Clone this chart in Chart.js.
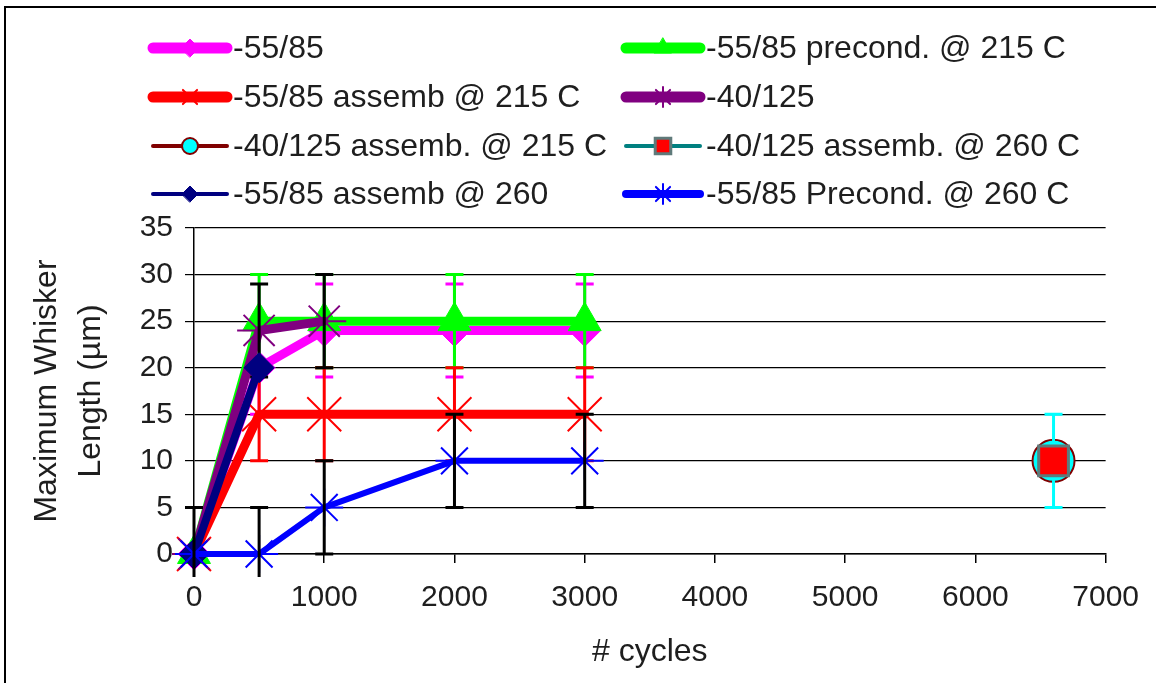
<!DOCTYPE html>
<html><head><meta charset="utf-8">
<script src="https://cdn.jsdelivr.net/npm/chart.js@4.4.0/dist/chart.umd.min.js"></script>
<style>
html,body{margin:0;padding:0;background:#fff;overflow:hidden;}
#wrap{position:relative;width:1156px;height:683px;overflow:hidden;}
#frame{position:absolute;left:4px;top:6px;width:1400px;height:1000px;border:2px solid #000;box-sizing:border-box;}
canvas{position:absolute;left:0;top:0;}
</style></head><body>
<div id="wrap"><div id="frame"></div><canvas id="c" width="1156" height="683"></canvas></div>
<script>
// ---- data ----
const cycles = [0, 500, 1000, 2000, 3000];
const cycles40125 = [0, 500, 1000];
const cyclesAsm260 = [0, 500];
const cyclesLong = [6600];

const len5585 = [0, 20, 24, 24, 24];
const err5585 = [null, 5, 5, 5, 5];
const len5585Pre215 = [0, 25, 25, 25, 25];
const err5585Pre215 = [null, 5, 5, 5, 5];
const len5585Asm215 = [0, 15, 15, 15, 15];
const err5585Asm215 = [null, 5, 5, 5, 5];
const len40125 = [0, 24, 25];
const err40125 = [null, 5, 5];
const len40125Asm215 = [10];
const err40125Asm215 = [5];
const len40125Asm260 = [10];
const len5585Asm260 = [0, 20];
const len5585Pre260 = [0, 0, 5, 10, 10];
const err5585Pre260 = [5, 5, 5, 5, 5];

const seriesNames = ['-55/85', '-55/85 precond. @ 215 C', '-55/85 assemb @ 215 C', '-40/125',
  '-40/125 assemb. @ 215 C', '-40/125 assemb. @ 260 C', '-55/85 assemb @ 260', '-55/85 Precond. @ 260 C'];
const xTickValues = [0, 1000, 2000, 3000, 4000, 5000, 6000, 7000];
const yTickValues = [0, 5, 10, 15, 20, 25, 30, 35];
const xTitle = '# cycles';
const yTitle = ['Maximum Whisker', 'Length (\u00b5m)'];

const FONT = "'Liberation Sans', Arial, sans-serif";
const TEXT = '#1e1e1e';

function pts(xs, ys) { return xs.map((x, i) => ({x: x, y: ys[i]})); }

const datasets = [
  {label: seriesNames[0], data: pts(cycles, len5585), errors: err5585, errorColor: '#FF00FF',
   borderColor: '#FF00FF', borderWidth: 9, pointStyle: 'rectRot', pointRadius: 16,
   pointBackgroundColor: '#FF00FF', pointBorderColor: '#FF00FF', pointBorderWidth: 1,
   legendLine: 11, legendRadius: 9},
  {label: seriesNames[1], data: pts(cycles, len5585Pre215), errors: err5585Pre215, errorColor: '#00FF00',
   borderColor: '#00FF00', borderWidth: 9, pointStyle: 'triangle', pointRadius: 19,
   pointBackgroundColor: '#00FF00', pointBorderColor: '#00FF00', pointBorderWidth: 1,
   legendLine: 11, legendRadius: 10},
  {label: seriesNames[2], data: pts(cycles, len5585Asm215), errors: err5585Asm215, errorColor: '#FF0000',
   borderColor: '#FF0000', borderWidth: 9, pointStyle: 'crossRot', pointRadius: 24,
   pointBackgroundColor: '#FF0000', pointBorderColor: '#FF0000', pointBorderWidth: 2,
   legendLine: 11, legendRadius: 10},
  {label: seriesNames[3], data: pts(cycles40125, len40125), errors: err40125, errorColor: '#000000',
   borderColor: '#800080', borderWidth: 9, pointStyle: 'star', pointRadius: 22,
   pointBackgroundColor: '#800080', pointBorderColor: '#800080', pointBorderWidth: 2,
   legendLine: 11, legendRadius: 10},
  {label: seriesNames[4], data: pts(cyclesLong, len40125Asm215), errors: err40125Asm215, errorColor: '#00FFFF',
   borderColor: '#800000', borderWidth: 3, pointStyle: 'circle', pointRadius: 21,
   pointBackgroundColor: '#00FFFF', pointBorderColor: '#800000', pointBorderWidth: 2,
   legendLine: 4, legendRadius: 8},
  {label: seriesNames[5], data: pts(cyclesLong, len40125Asm260),
   borderColor: '#008080', borderWidth: 3, pointStyle: 'rect', pointRadius: 21,
   pointBackgroundColor: '#FF0000', pointBorderColor: '#5f7a7a', pointBorderWidth: 3,
   legendLine: 4, legendRadius: 11},
  {label: seriesNames[6], data: pts(cyclesAsm260, len5585Asm260),
   borderColor: '#000080', borderWidth: 8, pointStyle: 'rectRot', pointRadius: 15,
   pointBackgroundColor: '#000080', pointBorderColor: '#000080', pointBorderWidth: 1,
   legendLine: 4, legendRadius: 8},
  {label: seriesNames[7], data: pts(cycles, len5585Pre260), errors: err5585Pre260, errorColor: '#000000',
   borderColor: '#0000FF', borderWidth: 6, pointStyle: 'star', pointRadius: 19,
   pointBackgroundColor: '#0000FF', pointBorderColor: '#0000FF', pointBorderWidth: 2,
   legendLine: 8, legendRadius: 10}
];
datasets.forEach((d, i) => {
  d.order = datasets.length - i; // later series drawn on top
  d.clip = false;
  d.fill = false;
  d.tension = 0;
  d.showLine = true;
  d.borderJoinStyle = 'round';
  d.borderCapStyle = 'round';
});

const errorBars = {
  id: 'errorBars',
  afterDatasetDraw(chart, args) {
    const ds = chart.data.datasets[args.index];
    if (!ds.errors) return;
    const ctx = chart.ctx, xs = chart.scales.x, ys = chart.scales.y, ca = chart.chartArea;
    ctx.save();
    // error bars may leave the plot a little, but stop before the tick labels
    ctx.beginPath();
    ctx.rect(ca.left - 40, ca.top - 40, ca.right - ca.left + 80, ca.bottom - ca.top + 40 + 23);
    ctx.clip();
    ctx.strokeStyle = ds.errorColor;
    ctx.lineWidth = 3;
    ds.data.forEach((p, i) => {
      const e = ds.errors[i];
      if (e == null) return;
      const px = xs.getPixelForValue(p.x);
      const t = ys.getPixelForValue(p.y + e);
      const b = ys.getPixelForValue(p.y - e);
      ctx.beginPath();
      ctx.moveTo(px, t); ctx.lineTo(px, b);
      ctx.moveTo(px - 9, t); ctx.lineTo(px + 9, t);
      ctx.moveTo(px - 9, b); ctx.lineTo(px + 9, b);
      ctx.stroke();
    });
    ctx.restore();
  }
};

const customLegend = {
  id: 'customLegend',
  afterDraw(chart) {
    const ctx = chart.ctx;
    const colX = [150, 623], rowY = [48, 97, 146, 194], sampleLen = 80;
    chart.data.datasets.forEach((ds, i) => {
      const row = Math.floor(i / 2), col = i % 2;
      const x0 = colX[col], y = rowY[row];
      ctx.save();
      ctx.strokeStyle = ds.borderColor;
      ctx.lineWidth = ds.legendLine;
      ctx.lineCap = 'round';
      ctx.beginPath();
      ctx.moveTo(x0 + 3, y); ctx.lineTo(x0 + sampleLen - 3, y);
      ctx.stroke();
      ctx.fillStyle = ds.pointBackgroundColor;
      ctx.strokeStyle = ds.pointBorderColor;
      ctx.lineWidth = ds.pointBorderWidth;
      Chart.helpers.drawPoint(ctx, {pointStyle: ds.pointStyle, radius: ds.legendRadius,
        borderWidth: ds.pointBorderWidth, rotation: 0}, x0 + sampleLen / 2, y);
      ctx.fillStyle = TEXT;
      ctx.font = '32px ' + FONT;
      ctx.textAlign = 'left';
      ctx.textBaseline = 'middle';
      ctx.fillText(ds.label, x0 + sampleLen + 3, y + 1);
      ctx.restore();
    });
  }
};

Chart.defaults.font.family = FONT;
Chart.defaults.color = TEXT;

new Chart(document.getElementById('c'), {
  type: 'scatter',
  data: {datasets: datasets},
  options: {
    responsive: false,
    animation: false,
    devicePixelRatio: 1,
    layout: {padding: {top: 228, right: 45, left: 0, bottom: 0}},
    plugins: {legend: {display: false}, tooltip: {enabled: false}},
    scales: {
      x: {
        type: 'linear', min: 0, max: 7000,
        afterFit(s) { s.height = 129; },
        afterBuildTicks(s) { s.ticks = xTickValues.map(v => ({value: v})); },
        ticks: {font: {size: 30}, color: TEXT, padding: 17, maxRotation: 0, autoSkip: false,
          callback: v => String(v)},
        grid: {drawOnChartArea: false, drawTicks: true, tickLength: 9, color: '#000', lineWidth: 1.5},
        border: {display: true, color: '#000', width: 1.5},
        title: {display: true, text: xTitle, font: {size: 32}, color: TEXT, padding: {top: 0, bottom: 12}}
      },
      y: {
        type: 'linear', min: 0, max: 35,
        afterFit(s) { s.width = 194; },
        afterBuildTicks(s) { s.ticks = yTickValues.map(v => ({value: v})); },
        ticks: {font: {size: 30}, color: TEXT, padding: 12, autoSkip: false, callback: v => String(v)},
        grid: {drawOnChartArea: true, drawTicks: true, tickLength: 9, color: '#000', lineWidth: 1.2},
        border: {display: true, color: '#000', width: 1.5},
        title: {display: true, text: yTitle, font: {size: 32, lineHeight: 1.35}, color: TEXT, padding: {top: 26, bottom: 0}}
      }
    }
  },
  plugins: [errorBars, customLegend]
});
</script>
</body></html>
